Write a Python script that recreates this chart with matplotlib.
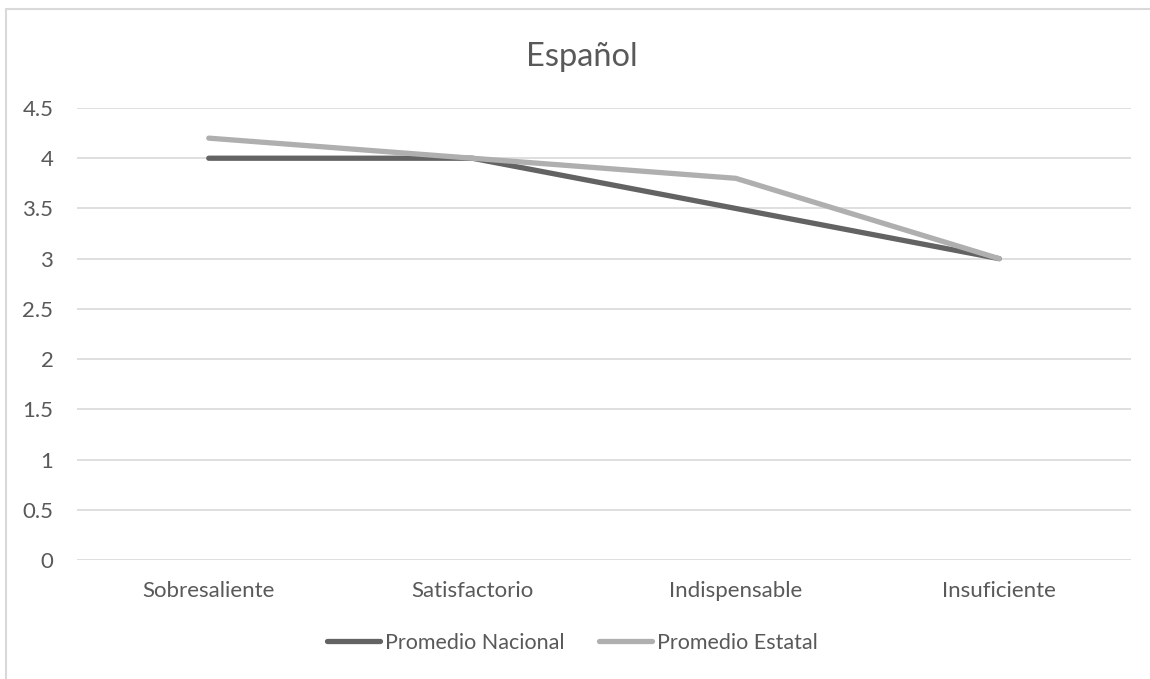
import matplotlib.pyplot as plt
from matplotlib.patches import Rectangle

categories = ['Sobresaliente', 'Satisfactorio', 'Indispensable', 'Insuficiente']
promedio_nacional = [4.0, 4.0, 3.5, 3.0]
promedio_estatal = [4.2, 4.0, 3.8, 3.0]
yticks = [0, 0.5, 1, 1.5, 2, 2.5, 3, 3.5, 4, 4.5]
ytick_labels = ['0', '0.5', '1', '1.5', '2', '2.5', '3', '3.5', '4', '4.5']

plt.rcParams['font.family'] = ['Lato', 'DejaVu Sans']

fig = plt.figure(figsize=(11.5, 6.79), dpi=100)
W, H = 1150, 679
ax = fig.add_axes([77 / W, 1 - 560 / H, (1131 - 77) / W, (560 - 108) / H])

# chart border (light grey frame like the Excel chart area)
fig.patches.append(Rectangle((6 / W, -0.05), 1.2, 1 - 9 / H + 0.05, transform=fig.transFigure,
                             fill=False, edgecolor='#d9d9d9', linewidth=1.5))

x = list(range(len(categories)))
ax.plot(x, promedio_nacional, color='#636363', linewidth=3.8, solid_capstyle='round',
        label='Promedio Nacional', zorder=3)
ax.plot(x, promedio_estatal, color='#afafaf', linewidth=3.8, solid_capstyle='round',
        label='Promedio Estatal', zorder=4)

ax.set_xlim(-0.5, len(categories) - 0.5)
ax.set_ylim(0, 4.5)
ax.set_yticks(yticks)
ax.set_yticklabels(ytick_labels)
ax.set_xticks(x)
ax.set_xticklabels(categories)
ax.grid(axis='y', color='#d9d9d9', linewidth=1.2)
ax.set_axisbelow(True)
for s in ax.spines.values():
    s.set_visible(False)
ax.tick_params(length=0, labelsize=16, colors='#595959')
ax.tick_params(axis='x', pad=15)
ax.tick_params(axis='y', pad=17)

fig.text(582 / W, 1 - 57 / H, 'Español', ha='center', va='center', fontsize=23.5, color='#595959')

leg = fig.legend(loc='center', bbox_to_anchor=(572 / W, 1 - 643 / H), ncol=2, frameon=False,
                 fontsize=15.5, handlelength=2.46, handletextpad=0.23, columnspacing=1.6)
for t in leg.get_texts():
    t.set_color('#595959')

fig.savefig('out.png', dpi=100)
